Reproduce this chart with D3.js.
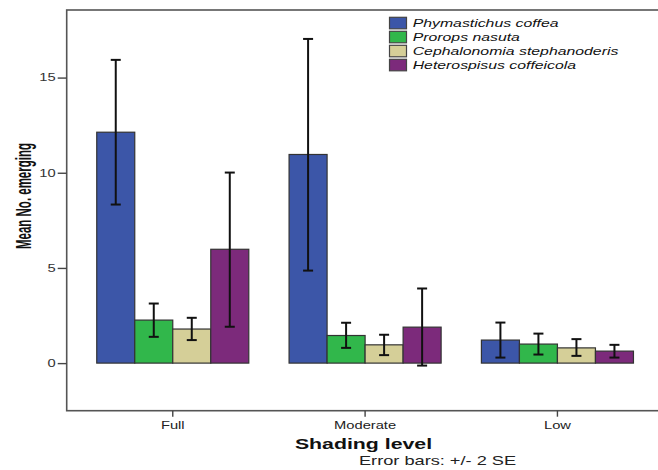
<!DOCTYPE html>
<html>
<head>
<meta charset="utf-8">
<script src="https://cdn.jsdelivr.net/npm/d3@7"></script>
<style>
  body { margin: 0; background: #fff; }
  text { font-family: "Liberation Sans", Arial, sans-serif; }
</style>
</head>
<body>
<div id="chart-container"></div>
<script>
// data
const levels = ["Full", "Moderate", "Low"];
const species = ["Phymastichus coffea", "Prorops nasuta", "Cephalonomia stephanoderis", "Heterospisus coffeicola"];
const colors = ["#3c56a8", "#31b74b", "#d5cf98", "#7c2a7b"];
// means per species, in order Full, Moderate, Low
const meanPhymastichus = [12.13, 10.96, 1.21];
const meanProrops = [2.26, 1.45, 1.0];
const meanCephalonomia = [1.79, 0.96, 0.8];
const meanHeterospisus = [5.98, 1.89, 0.63];
// error bar ends (+/- 2 SE)
const lowPhymastichus = [8.33, 4.86, 0.29];
const highPhymastichus = [15.93, 17.03, 2.13];
const lowProrops = [1.38, 0.8, 0.45];
const highProrops = [3.13, 2.12, 1.55];
const lowCephalonomia = [1.21, 0.42, 0.38];
const highCephalonomia = [2.38, 1.49, 1.26];
const lowHeterospisus = [1.91, -0.13, 0.29];
const highHeterospisus = [10.01, 3.92, 0.96];
const yTicks = [0, 5, 10, 15];

const means = [meanPhymastichus, meanProrops, meanCephalonomia, meanHeterospisus];
const lows = [lowPhymastichus, lowProrops, lowCephalonomia, lowHeterospisus];
const highs = [highPhymastichus, highProrops, highCephalonomia, highHeterospisus];

const data = [];
levels.forEach((lvl, i) => {
  species.forEach((sp, j) => {
    data.push({ level: lvl, species: sp, mean: means[j][i], lo: lows[j][i], hi: highs[j][i], color: colors[j] });
  });
});

const width = 658, height = 470;
const marginLeft = 66.7, marginTop = 10, axisBottom = 410.7;
const stretch = 1.4; // the picture is stretched sideways

const svg = d3.select("#chart-container").append("svg")
  .attr("width", width).attr("height", height);

const x0 = d3.scaleBand().domain(levels).range([76.6, 653.6]).padding(0);
const x1 = d3.scaleBand().domain(species).range([0, x0.bandwidth()]).paddingInner(0).paddingOuter(0.53);
const y = d3.scaleLinear().domain([-2.5, 18.55]).range([axisBottom, marginTop]);

// frame (right edge falls outside the picture)
svg.append("rect")
  .attr("x", marginLeft).attr("y", marginTop)
  .attr("width", width + 10 - marginLeft).attr("height", axisBottom - marginTop)
  .attr("fill", "none").attr("stroke", "#555").attr("stroke-width", 1.6);

// bars
svg.append("g").selectAll("rect").data(data).enter().append("rect")
  .attr("x", d => x0(d.level) + x1(d.species))
  .attr("y", d => y(d.mean))
  .attr("width", x1.bandwidth())
  .attr("height", d => y(0) - y(d.mean))
  .attr("fill", d => d.color)
  .attr("stroke", "#333").attr("stroke-width", 1.2);

// error bars
const eb = svg.append("g").attr("stroke", "#111").attr("stroke-width", 2);
data.forEach(d => {
  const cx = x0(d.level) + x1(d.species) + x1.bandwidth() / 2;
  eb.append("line").attr("x1", cx).attr("x2", cx).attr("y1", y(d.hi)).attr("y2", y(d.lo));
  eb.append("line").attr("x1", cx - 5).attr("x2", cx + 5).attr("y1", y(d.hi)).attr("y2", y(d.hi));
  eb.append("line").attr("x1", cx - 5).attr("x2", cx + 5).attr("y1", y(d.lo)).attr("y2", y(d.lo));
});

// stretched text helper
function label(txt, x, yy, opts) {
  return svg.append("text")
    .attr("transform", `translate(${x},${yy}) scale(${opts.sx || stretch},1)`)
    .attr("text-anchor", opts.anchor || "middle")
    .attr("font-size", opts.size)
    .attr("font-weight", opts.weight || "normal")
    .attr("font-style", opts.style || "normal")
    .attr("fill", opts.fill || "#111")
    .text(txt);
}

// y axis ticks
const yAxisG = svg.append("g")
  .attr("transform", `translate(${marginLeft},0)`)
  .call(d3.axisLeft(y).tickValues(yTicks).tickSize(9).tickFormat(""));
yAxisG.select(".domain").remove();
yAxisG.selectAll("line").attr("stroke", "#444").attr("stroke-width", 1.4);
yTicks.forEach(t => label(String(t), marginLeft - 11, y(t) + 3.8, { size: 10.5, anchor: "end", fill: "#333" }));

// x axis ticks
const xAxisG = svg.append("g")
  .attr("transform", `translate(0,${axisBottom})`)
  .call(d3.axisBottom(x0).tickSize(6).tickFormat(""));
xAxisG.select(".domain").remove();
xAxisG.selectAll("line").attr("stroke", "#444").attr("stroke-width", 1.4);
levels.forEach(l => label(l, x0(l) + x0.bandwidth() / 2, 428.5, { size: 10.5, fill: "#222" }));

// axis titles
label("Shading level", 363.5, 448.5, { size: 15, weight: "bold", sx: 1.42 });
label("Error bars:  +/- 2 SE", 437.5, 465, { size: 13, fill: "#222" });
svg.append("text")
  .attr("transform", "translate(30.5,196) scale(1.9,1) rotate(-90)")
  .attr("text-anchor", "middle")
  .attr("font-size", 11.5).attr("font-weight", "bold").attr("fill", "#111")
  .text("Mean No. emerging");

// legend
const legend = svg.append("g");
species.forEach((sp, j) => {
  const ly = 17.3 + j * 14;
  legend.append("rect")
    .attr("x", 389.5).attr("y", ly).attr("width", 17).attr("height", 11.5)
    .attr("fill", colors[j]).attr("stroke", "#444").attr("stroke-width", 1.2);
  label(sp, 412.7, ly + 10, { size: 11.3, style: "italic", anchor: "start", fill: "#111" });
});
</script>
</body>
</html>
